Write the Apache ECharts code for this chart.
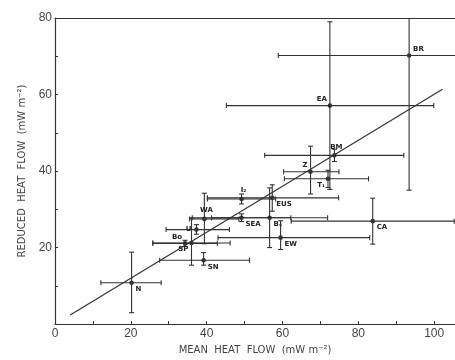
<!DOCTYPE html>
<html><head><meta charset="utf-8">
<script src="https://cdn.jsdelivr.net/npm/echarts@6/dist/echarts.min.js"></script>
<style>html,body{margin:0;background:#fff}#c{width:455px;height:360px}</style>
</head><body><div id="c"></div>
<script>
// ---- data ----
const sites       = ['N','SN','Bo','SP','U','WA','SEA','I₂','B₄','EUS','EW','Z','T₁','BM','EA','CA','BR'];
const meanHF      = [20.2,39.2,34.3,36.0,37.3,39.4,49.2,49.2,56.6,57.3,59.5,67.4,72.0,73.7,72.5,83.8,93.4];
const meanLow     = [12.1,27.6,25.8,25.8,29.3,35.5,36.2,40.2,41.3,40.2,43.0,60.3,60.5,55.3,45.2,62.3,58.9];
const meanHigh    = [28.0,51.3,42.8,46.2,46.0,48.5,62.2,58.2,71.9,74.8,83.0,74.9,82.7,92.0,99.9,105.3,128];
const reducedHF   = [10.8,16.7,21.1,21.2,24.7,27.5,27.8,32.7,27.8,33.0,22.6,39.8,38.0,44.1,57.1,26.9,70.2];
const reducedLow  = [3.0,15.4,20.3,15.4,23.5,21.0,26.8,31.4,20.0,29.5,19.5,34.0,35.7,42.5,35.2,20.9,35.0];
const reducedHigh = [18.8,18.7,21.9,27.8,26.0,34.2,28.8,34.0,35.6,36.4,27.0,46.5,40.2,45.7,79.0,32.9,105];
const fitX = [4.0, 102.2];
const fitY = [2.4, 61.4];
const xTickLabels = [0,20,40,60,80,100];
const yTickLabels = [20,40,60,80];

// ---- style ----
const ink = '#333';
const labelSide = {N:'br',SN:'br',Bo:'tl',SP:'bl',U:'l',WA:'t',SEA:'br','I₂':'t','B₄':'br',EUS:'br',EW:'br',Z:'tl','T₁':'bl',BM:'t',EA:'tl',CA:'br',BR:'tr'};

const rows = sites.map((s,i)=>[meanHF[i],reducedHF[i],meanLow[i],meanHigh[i],reducedLow[i],reducedHigh[i]]);

function renderItem(params, api){
  const i = params.dataIndex;
  const x = api.value(0), y = api.value(1);
  const c  = api.coord([x,y]);
  const a1 = api.coord([api.value(2),y]);
  const a2 = api.coord([api.value(3),y]);
  const b1 = api.coord([x,api.value(4)]);
  const b2 = api.coord([x,api.value(5)]);
  const st = {stroke:ink, lineWidth:1.1, fill:null};
  const cap = 2.5;
  const L = (x1,y1,x2,y2)=>({type:'line',shape:{x1,y1,x2,y2},style:st});
  const side = labelSide[sites[i]];
  let tx=c[0], ty=c[1], al='left', va='top';
  if(side==='br'){tx+=4;ty+=3;al='left';va='top';}
  else if(side==='tr'){tx+=4;ty-=3;al='left';va='bottom';}
  else if(side==='tl'){tx-=3;ty-=3;al='right';va='bottom';}
  else if(side==='bl'){tx-=3;ty+=3;al='right';va='top';}
  else if(side==='l'){tx-=5;al='right';va='middle';}
  else if(side==='t'){tx+=2;ty-=5;al='center';va='bottom';}
  return {type:'group',children:[
    L(a1[0],a1[1],a2[0],a2[1]),
    L(b1[0],b1[1],b2[0],b2[1]),
    L(a1[0],a1[1]-cap,a1[0],a1[1]+cap),
    L(a2[0],a2[1]-cap,a2[0],a2[1]+cap),
    L(b1[0]-cap,b1[1],b1[0]+cap,b1[1]),
    L(b2[0]-cap,b2[1],b2[0]+cap,b2[1]),
    {type:'circle',shape:{cx:c[0],cy:c[1],r:2.3},style:{fill:ink}},
    {type:'text',x:tx,y:ty,style:{text:sites[i],fill:'#222',font:'bold 7px "DejaVu Sans"',align:al,verticalAlign:va}}
  ]};
}

const chart = echarts.init(document.getElementById('c'),null,{renderer:'canvas'});
const axisFont = {fontFamily:'"Liberation Sans", Arial', fontSize:12, color:'#444'};
chart.setOption({
  animation:false,
  backgroundColor:'#fff',
  grid:{left:55,right:0,top:18,bottom:32},
  xAxis:[{
    type:'value',min:0,max:105.5,interval:10,
    axisLine:{show:true,lineStyle:{color:ink,width:1.2}},
    axisTick:{show:true,inside:true,length:3,lineStyle:{color:ink},customValues:[10,20,30,40,50,60,70,80,90,100]},
    axisLabel:Object.assign({margin:4,customValues:xTickLabels},axisFont),
    splitLine:{show:false},
    name:'MEAN  HEAT  FLOW  (mW m⁻²)',nameLocation:'middle',nameGap:20,
    nameTextStyle:{fontFamily:'"DejaVu Sans"',fontSize:10,color:'#444'}
  },{
    type:'value',position:'top',min:0,max:105.5,
    axisLine:{show:true,lineStyle:{color:ink,width:1.2}},
    axisTick:{show:false},axisLabel:{show:false},splitLine:{show:false}
  }],
  yAxis:{
    type:'value',min:0,max:80,interval:10,
    axisLine:{show:true,lineStyle:{color:ink,width:1.2}},
    axisTick:{show:true,inside:true,length:3,lineStyle:{color:ink},customValues:[10,20,30,40,50,60,70]},
    axisLabel:Object.assign({margin:3,customValues:yTickLabels},axisFont),
    splitLine:{show:false},
    name:'REDUCED  HEAT  FLOW  (mW m⁻²)',nameLocation:'middle',nameGap:27,
    nameTextStyle:{fontFamily:'"DejaVu Sans"',fontSize:10,color:'#444'}
  },
  series:[{
    type:'line',data:fitX.map((v,i)=>[v,fitY[i]]),symbol:'none',
    lineStyle:{color:ink,width:1.2},silent:true
  },{
    type:'custom',renderItem,data:rows,clip:true,
    encode:{x:[0,2,3],y:[1,4,5]}
  }]
});
</script></body></html>
